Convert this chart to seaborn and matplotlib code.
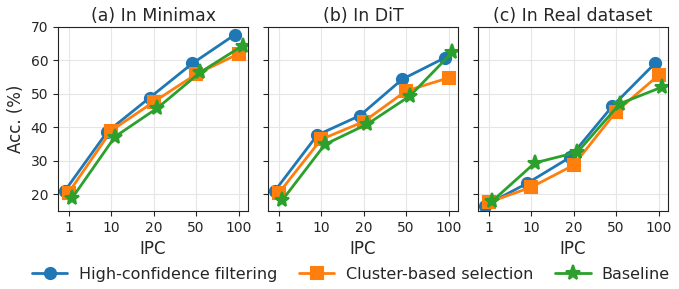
import matplotlib
matplotlib.use("Agg")
import matplotlib.pyplot as plt
import pandas as pd
import seaborn as sns

IPC = ["1", "10", "20", "50", "100"]
METHODS = ["High-confidence filtering", "Cluster-based selection", "Baseline"]
PANELS = ["(a) In Minimax", "(b) In DiT", "(c) In Real dataset"]

# accuracy (%) per panel, per method
minimax_hcf = [21.0, 38.7, 48.9, 59.1, 67.7]
minimax_cbs = [20.5, 39.0, 47.6, 55.9, 62.0]
minimax_base = [19.0, 37.2, 45.8, 56.4, 64.4]

dit_hcf = [21.0, 37.7, 43.5, 54.4, 60.8]
dit_cbs = [20.3, 36.4, 41.7, 50.9, 54.8]
dit_base = [18.3, 34.9, 41.0, 49.4, 62.5]

real_hcf = [16.6, 23.3, 31.0, 46.3, 59.1]
real_cbs = [17.6, 22.1, 28.7, 44.7, 55.6]
real_base = [18.0, 29.4, 32.6, 47.1, 52.1]

series = {
    PANELS[0]: [minimax_hcf, minimax_cbs, minimax_base],
    PANELS[1]: [dit_hcf, dit_cbs, dit_base],
    PANELS[2]: [real_hcf, real_cbs, real_base],
}

rows = []
for panel, vals in series.items():
    for method, ys in zip(METHODS, vals):
        for ipc, y in zip(IPC, ys):
            rows.append({"panel": panel, "method": method, "IPC": ipc, "acc": y})
df = pd.DataFrame(rows)

sns.set_style("ticks")
plt.rcParams["font.family"] = ["DejaVu Sans"]

fig, axes = plt.subplots(1, 3, figsize=(6.79, 2.89), dpi=100, sharey=True)
fig.subplots_adjust(left=58 / 679, right=668 / 679, top=1 - 27 / 289,
                    bottom=1 - 211 / 289, wspace=0.105)

palette = ["#1f77b4", "#ff7f0e", "#2ca02c"]
for ax, panel in zip(axes, PANELS):
    sub = df[df["panel"] == panel]
    sns.pointplot(data=sub, x="IPC", y="acc", hue="method", order=IPC,
                  hue_order=METHODS, palette=palette, markers=["o", "s", "*"],
                  dodge=0.18, errorbar=None, ax=ax, markersize=8, linewidth=2)
    for ln in ax.lines:
        if ln.get_marker() == "*":
            ln.set_markersize(11)
    ax.set_title(panel, fontsize=12.5, pad=4)
    ax.set_xlabel("IPC", fontsize=12)
    ax.set_ylabel("Acc. (%)" if ax is axes[0] else "", fontsize=12)
    ax.set_xlim(-0.25, 4.22)
    ax.set_ylim(15, 70)
    ax.set_yticks([20, 30, 40, 50, 60, 70])
    ax.grid(True, color="#e6e6e6", linewidth=0.8)
    ax.set_axisbelow(True)
    ax.tick_params(labelsize=10)
    for s in ax.spines.values():
        s.set_visible(True)
        s.set_color("#222222")
    leg = ax.get_legend()
    if leg is not None:
        leg.remove()

handles, labels = axes[0].get_legend_handles_labels()
fig.legend(handles, labels, loc="lower center", ncol=3, frameon=False,
           fontsize=11.5, bbox_to_anchor=(0.517, -0.025), columnspacing=1.4,
           handlelength=2.2, handletextpad=0.7)

fig.savefig("out.png", dpi=100)
